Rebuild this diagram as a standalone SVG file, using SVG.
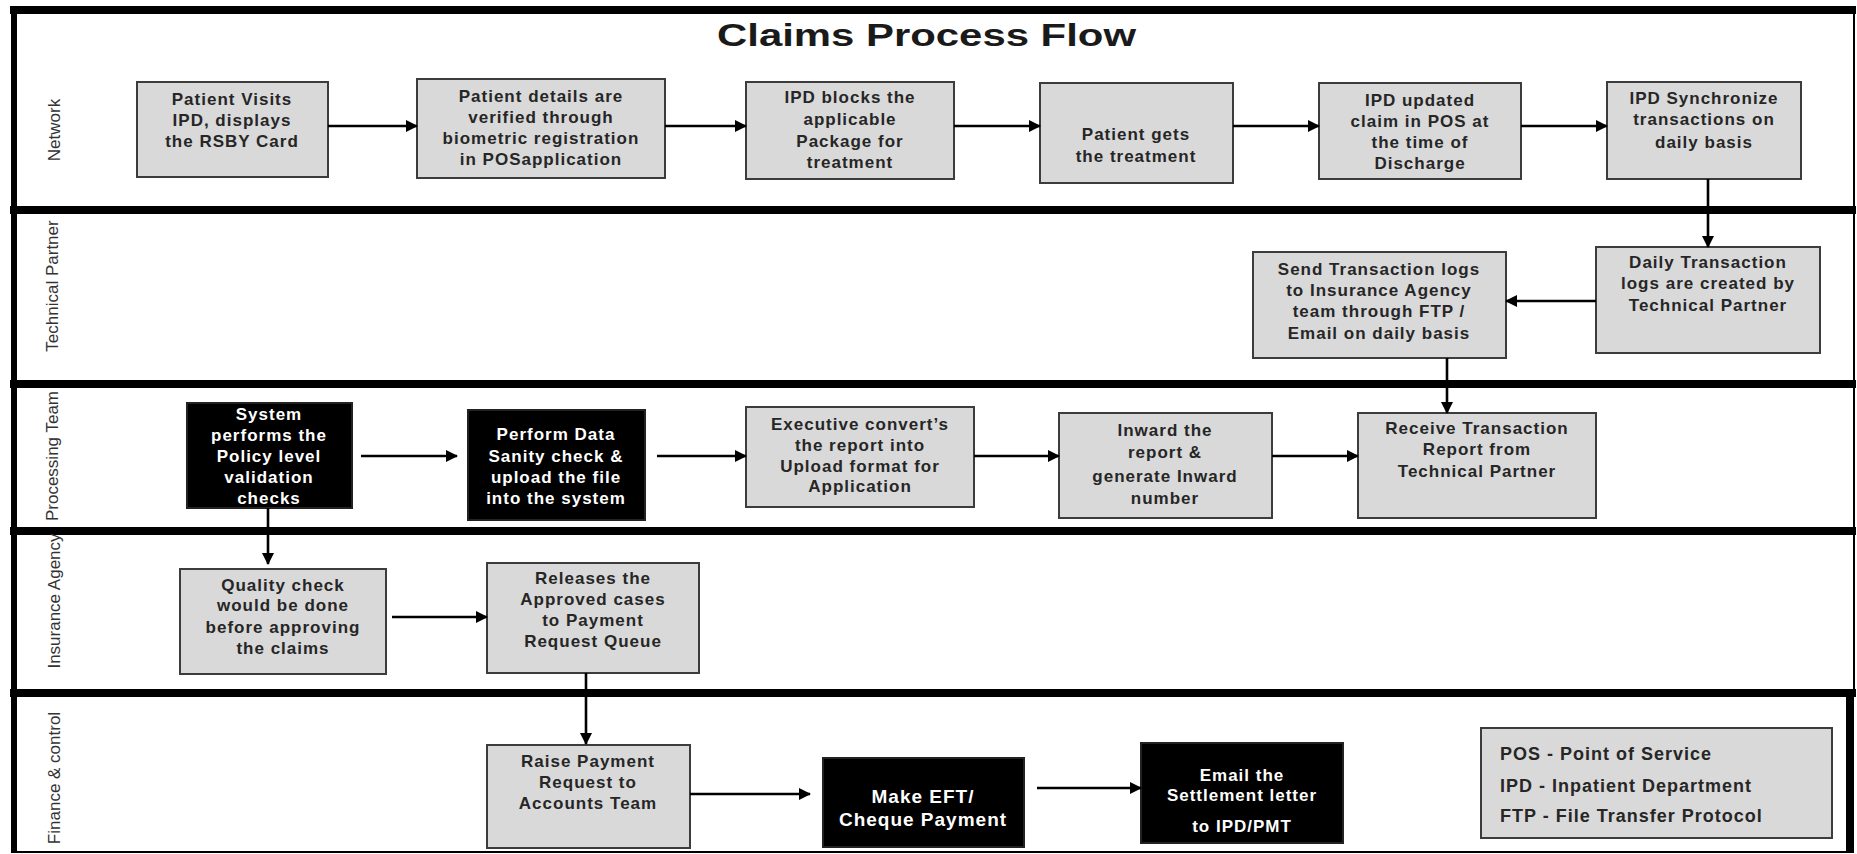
<svg xmlns="http://www.w3.org/2000/svg" width="1857" height="854" viewBox="0 0 1857 854">
<defs>
<marker id="arr" markerUnits="userSpaceOnUse" markerWidth="12" markerHeight="12" refX="11" refY="6" orient="auto">
<path d="M0,0 L12,6 L0,12 z" fill="#000"/>
</marker>
<style>
.box{fill:#d9d9d9;stroke:#3c3c3c;stroke-width:2}
.dark{fill:#000;stroke:#222;stroke-width:2}
.t{font-family:"Liberation Sans",Arial,sans-serif;font-weight:bold;font-size:17px;letter-spacing:1px;fill:#262626;text-anchor:middle}
.w{fill:#fff}
.lane{font-family:"Liberation Sans",Arial,sans-serif;font-size:17px;fill:#333;text-anchor:middle;dominant-baseline:central}
.band{fill:#000}
.con line{stroke:#000;stroke-width:2.6;fill:none}
.leg{font-family:"Liberation Sans",Arial,sans-serif;font-weight:bold;font-size:18px;letter-spacing:1px;fill:#262626}
</style>
</defs>
<rect x="0" y="0" width="1857" height="854" fill="#fff"/>

<g id="frame">
<rect class="band" x="10" y="6" width="1846" height="8"/>
<rect class="band" x="10" y="206" width="1846" height="8"/>
<rect class="band" x="10" y="380" width="1846" height="8"/>
<rect class="band" x="10" y="527" width="1846" height="8"/>
<rect class="band" x="10" y="689" width="1846" height="8"/>
<rect class="band" x="11" y="6" width="6" height="847"/>
<line x1="1854" y1="6" x2="1854" y2="697" stroke="#000" stroke-width="2"/>
<rect class="band" x="1846" y="697" width="8" height="156"/>
<line x1="11" y1="852" x2="1854" y2="852" stroke="#000" stroke-width="2"/>
</g>

<g id="title">
<text x="717" y="46" font-family="'Liberation Sans',Arial,sans-serif" font-weight="bold" font-size="32" fill="#1a1a1a" textLength="419" lengthAdjust="spacingAndGlyphs">Claims Process Flow</text>
</g>

<g id="lanes">
<text class="lane" transform="translate(54,130) rotate(-90)">Network</text>
<text class="lane" transform="translate(52,286) rotate(-90)">Technical Partner</text>
<text class="lane" transform="translate(52,456) rotate(-90)">Processing Team</text>
<text class="lane" transform="translate(54,601) rotate(-90)">Insurance Agency</text>
<text class="lane" transform="translate(54,778) rotate(-90)">Finance &amp; control</text>
</g>

<g id="n1"><rect class="box" x="137" y="82" width="191" height="95"/>
<text class="t"><tspan x="232" y="105">Patient Visits</tspan><tspan x="232" y="126">IPD, displays</tspan><tspan x="232" y="147">the RSBY Card</tspan></text></g>

<g id="n2"><rect class="box" x="417" y="79" width="248" height="99"/>
<text class="t"><tspan x="541" y="102">Patient details are</tspan><tspan x="541" y="123">verified through</tspan><tspan x="541" y="144">biometric registration</tspan><tspan x="541" y="165">in POSapplication</tspan></text></g>

<g id="n3"><rect class="box" x="746" y="82" width="208" height="97"/>
<text class="t"><tspan x="850" y="103">IPD blocks the</tspan><tspan x="850" y="125">applicable</tspan><tspan x="850" y="147">Package for</tspan><tspan x="850" y="168">treatment</tspan></text></g>

<g id="n4"><rect class="box" x="1040" y="83" width="193" height="100"/>
<text class="t"><tspan x="1136" y="140">Patient gets</tspan><tspan x="1136" y="162">the treatment</tspan></text></g>

<g id="n5"><rect class="box" x="1319" y="83" width="202" height="96"/>
<text class="t"><tspan x="1420" y="106">IPD updated</tspan><tspan x="1420" y="127">claim in POS at</tspan><tspan x="1420" y="148">the time of</tspan><tspan x="1420" y="169">Discharge</tspan></text></g>

<g id="n6"><rect class="box" x="1607" y="82" width="194" height="97"/>
<text class="t"><tspan x="1704" y="104">IPD Synchronize</tspan><tspan x="1704" y="125">transactions on</tspan><tspan x="1704" y="148">daily basis</tspan></text></g>

<g id="n7"><rect class="box" x="1596" y="247" width="224" height="106"/>
<text class="t"><tspan x="1708" y="268">Daily Transaction</tspan><tspan x="1708" y="289">logs are created by</tspan><tspan x="1708" y="311">Technical Partner</tspan></text></g>

<g id="n8"><rect class="box" x="1253" y="252" width="253" height="106"/>
<text class="t"><tspan x="1379" y="275">Send Transaction logs</tspan><tspan x="1379" y="296">to Insurance Agency</tspan><tspan x="1379" y="317">team through FTP /</tspan><tspan x="1379" y="339">Email on daily basis</tspan></text></g>

<g id="n9"><rect class="box" x="1358" y="413" width="238" height="105"/>
<text class="t"><tspan x="1477" y="434">Receive Transaction</tspan><tspan x="1477" y="455">Report from</tspan><tspan x="1477" y="477">Technical Partner</tspan></text></g>

<g id="n10"><rect class="box" x="1059" y="413" width="213" height="105"/>
<text class="t"><tspan x="1165" y="436">Inward the</tspan><tspan x="1165" y="458">report &amp;</tspan><tspan x="1165" y="482">generate Inward</tspan><tspan x="1165" y="504">number</tspan></text></g>

<g id="n11"><rect class="box" x="746" y="407" width="228" height="100"/>
<text class="t"><tspan x="860" y="430">Executive convert’s</tspan><tspan x="860" y="451">the report into</tspan><tspan x="860" y="472">Upload format for</tspan><tspan x="860" y="492">Application</tspan></text></g>

<g id="n12"><rect class="dark" x="468" y="410" width="177" height="110"/>
<text class="t w"><tspan x="556" y="440">Perform Data</tspan><tspan x="556" y="462">Sanity check &amp;</tspan><tspan x="556" y="483">upload the file</tspan><tspan x="556" y="504">into the system</tspan></text></g>

<g id="n13"><rect class="dark" x="187" y="403" width="165" height="105"/>
<text class="t w"><tspan x="269" y="420">System</tspan><tspan x="269" y="441">performs the</tspan><tspan x="269" y="462">Policy level</tspan><tspan x="269" y="483">validation</tspan><tspan x="269" y="504">checks</tspan></text></g>

<g id="n14"><rect class="box" x="180" y="569" width="206" height="105"/>
<text class="t"><tspan x="283" y="591">Quality check</tspan><tspan x="283" y="611">would be done</tspan><tspan x="283" y="633">before approving</tspan><tspan x="283" y="654">the claims</tspan></text></g>

<g id="n15"><rect class="box" x="487" y="563" width="212" height="110"/>
<text class="t"><tspan x="593" y="584">Releases the</tspan><tspan x="593" y="605">Approved cases</tspan><tspan x="593" y="626">to Payment</tspan><tspan x="593" y="647">Request Queue</tspan></text></g>

<g id="n16"><rect class="box" x="487" y="745" width="203" height="103"/>
<text class="t"><tspan x="588" y="767">Raise Payment</tspan><tspan x="588" y="788">Request to</tspan><tspan x="588" y="809">Accounts Team</tspan></text></g>

<g id="n17"><rect class="dark" x="823" y="758" width="201" height="89"/>
<text class="t w" style="font-size:19px"><tspan x="923" y="803">Make EFT/</tspan><tspan x="923" y="826">Cheque Payment</tspan></text></g>

<g id="n18"><rect class="dark" x="1141" y="743" width="202" height="100"/>
<text class="t w"><tspan x="1242" y="781">Email the</tspan><tspan x="1242" y="801">Settlement letter</tspan><tspan x="1242" y="832">to IPD/PMT</tspan></text></g>

<g id="legend"><rect class="box" x="1481" y="728" width="351" height="110"/>
<text class="leg"><tspan x="1500" y="760">POS - Point of Service</tspan><tspan x="1500" y="792">IPD - Inpatient Department</tspan><tspan x="1500" y="822">FTP - File Transfer Protocol</tspan></text></g>

<g id="connectors" class="con">
<line x1="328" y1="126" x2="417" y2="126" marker-end="url(#arr)"/>
<line x1="665" y1="126" x2="746" y2="126" marker-end="url(#arr)"/>
<line x1="954" y1="126" x2="1040" y2="126" marker-end="url(#arr)"/>
<line x1="1233" y1="126" x2="1319" y2="126" marker-end="url(#arr)"/>
<line x1="1521" y1="126" x2="1607" y2="126" marker-end="url(#arr)"/>
<line x1="1708" y1="179" x2="1708" y2="247" marker-end="url(#arr)"/>
<line x1="1596" y1="301" x2="1506" y2="301" marker-end="url(#arr)"/>
<line x1="1447" y1="358" x2="1447" y2="413" marker-end="url(#arr)"/>
<line x1="1272" y1="456" x2="1358" y2="456" marker-end="url(#arr)"/>
<line x1="974" y1="456" x2="1059" y2="456" marker-end="url(#arr)"/>
<line x1="657" y1="456" x2="746" y2="456" marker-end="url(#arr)"/>
<line x1="361" y1="456" x2="457" y2="456" marker-end="url(#arr)"/>
<line x1="268" y1="508" x2="268" y2="564" marker-end="url(#arr)"/>
<line x1="392" y1="617" x2="487" y2="617" marker-end="url(#arr)"/>
<line x1="586" y1="673" x2="586" y2="744" marker-end="url(#arr)"/>
<line x1="690" y1="794" x2="810" y2="794" marker-end="url(#arr)"/>
<line x1="1037" y1="788" x2="1141" y2="788" marker-end="url(#arr)"/>
</g>
</svg>
